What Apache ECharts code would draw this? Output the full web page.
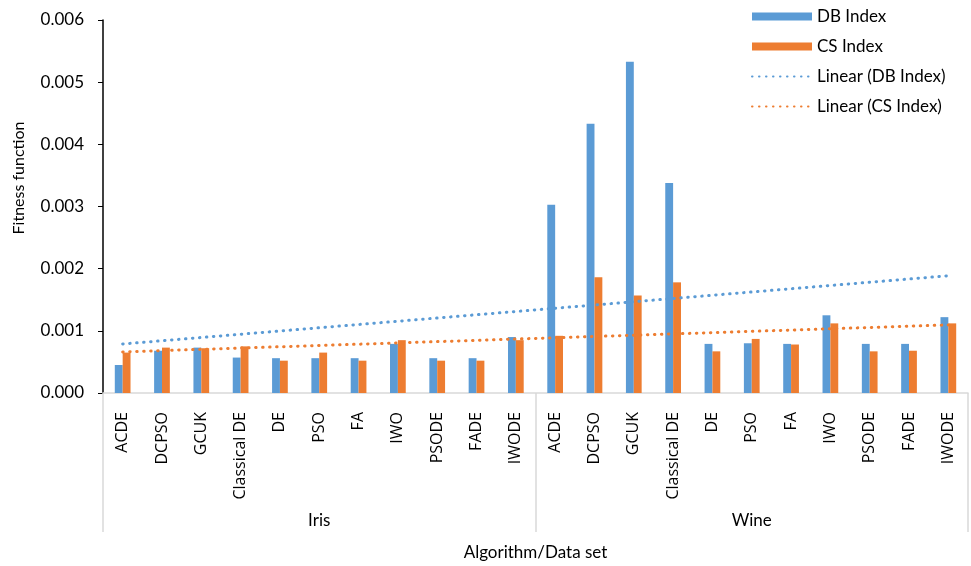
<!DOCTYPE html>
<html>
<head>
<meta charset="utf-8">
<script src="https://cdn.jsdelivr.net/npm/echarts@6/dist/echarts.min.js"></script>
<style>
  html, body { margin: 0; padding: 0; background: #ffffff; }
  #chart { width: 971px; height: 566px; }
</style>
</head>
<body>
<div id="chart"></div>
<script>
// Algorithms evaluated on each data set
const algorithms = ['ACDE', 'DCPSO', 'GCUK', 'Classical DE', 'DE', 'PSO', 'FA', 'IWO', 'PSODE', 'FADE', 'IWODE'];
const dataSets = ['Iris', 'Wine'];

// Fitness values per data set (same algorithm order as above)
const dbIris = [0.00045, 0.00068, 0.00073, 0.00057, 0.00056, 0.00056, 0.00056, 0.00079, 0.00056, 0.00056, 0.00090];
const dbWine = [0.00303, 0.00433, 0.00533, 0.00338, 0.00079, 0.00080, 0.00079, 0.00125, 0.00079, 0.00079, 0.00122];
const csIris = [0.00065, 0.00073, 0.00072, 0.00075, 0.00052, 0.00065, 0.00052, 0.00085, 0.00052, 0.00052, 0.00085];
const csWine = [0.00092, 0.00186, 0.00157, 0.00178, 0.00067, 0.00087, 0.00078, 0.00112, 0.00067, 0.00068, 0.00112];

// Y axis ticks
const yTicks = [0, 0.001, 0.002, 0.003, 0.004, 0.005, 0.006];

const categories = dataSets.flatMap(() => algorithms);
const dbValues = dbIris.concat(dbWine);
const csValues = csIris.concat(csWine);

// Least-squares linear trend over category positions 1..n
function linearTrend(values) {
  const n = values.length;
  let sx = 0, sy = 0, sxx = 0, sxy = 0;
  values.forEach((y, i) => {
    const x = i + 1;
    sx += x; sy += y; sxx += x * x; sxy += x * y;
  });
  const slope = (n * sxy - sx * sy) / (n * sxx - sx * sx);
  const intercept = (sy - slope * sx) / n;
  return values.map((_, i) => intercept + slope * (i + 1));
}

const BLUE = '#5B9BD5';
const ORANGE = '#ED7D31';
const FONT = 'Lato, "Liberation Sans", sans-serif';
const DOTS = { width: 3, type: [0.5, 6.5], cap: 'round' };

const chart = echarts.init(document.getElementById('chart'));

chart.setOption({
  animation: false,
  textStyle: { fontFamily: FONT },
  grid: { left: 103, right: 3, top: 20, bottom: 168, containLabel: false },
  legend: {
    orient: 'vertical',
    left: 751,
    top: 8,
    padding: 0,
    itemWidth: 60,
    itemHeight: 8,
    itemGap: 13,
    textStyle: { fontSize: 17, color: '#000', fontFamily: FONT },
    data: [
      { name: 'DB Index', icon: 'rect' },
      { name: 'CS Index', icon: 'rect' },
      { name: 'Linear (DB Index)', itemStyle: { opacity: 0 } },
      { name: 'Linear (CS Index)', itemStyle: { opacity: 0 } }
    ]
  },
  xAxis: [
    {
      type: 'category',
      data: categories,
      position: 'bottom',
      boundaryGap: true,
      axisLine: { show: true, lineStyle: { color: '#d9d9d9', width: 1.5 } },
      axisTick: { show: false },
      axisLabel: {
        interval: 0,
        rotate: 90,
        margin: 19,
        fontSize: 16,
        color: '#000',
        fontFamily: '"Open Sans", sans-serif'
      }
    },
    {
      type: 'category',
      data: dataSets,
      position: 'bottom',
      boundaryGap: true,
      axisLine: { show: false },
      axisTick: { show: true, length: 139, lineStyle: { color: '#d9d9d9', width: 1.5 } },
      axisLabel: { interval: 0, margin: 119, fontSize: 17, color: '#000', fontFamily: FONT },
      name: 'Algorithm/Data set',
      nameLocation: 'middle',
      nameGap: 151,
      nameTextStyle: { fontSize: 17, color: '#000', fontFamily: FONT }
    }
  ],
  yAxis: {
    type: 'value',
    min: yTicks[0],
    max: yTicks[yTicks.length - 1],
    interval: yTicks[1] - yTicks[0],
    axisLine: { show: true, lineStyle: { color: '#000', width: 1.5 } },
    axisTick: { show: true, length: 5, lineStyle: { color: '#000' } },
    splitLine: { show: false },
    axisLabel: {
      margin: 19,
      fontSize: 17,
      color: '#000',
      formatter: v => v.toFixed(3)
    }
  },
  graphic: [
    {
      type: 'text',
      x: 19,
      y: 178,
      rotation: Math.PI / 2,
      style: {
        text: 'Fitness function',
        fontSize: 16,
        fontFamily: FONT,
        fill: '#000',
        align: 'center',
        verticalAlign: 'middle'
      }
    }
  ],
  series: [
    {
      name: 'DB Index',
      type: 'bar',
      data: dbValues,
      barWidth: '20%',
      barGap: '0%',
      itemStyle: { color: BLUE }
    },
    {
      name: 'CS Index',
      type: 'bar',
      data: csValues,
      barWidth: '20%',
      barGap: '0%',
      itemStyle: { color: ORANGE }
    },
    {
      name: 'Linear (DB Index)',
      type: 'line',
      data: linearTrend(dbValues),
      symbol: 'none',
      z: 5,
      lineStyle: Object.assign({ color: BLUE }, DOTS),
      itemStyle: { color: BLUE }
    },
    {
      name: 'Linear (CS Index)',
      type: 'line',
      data: linearTrend(csValues),
      symbol: 'none',
      z: 5,
      lineStyle: Object.assign({ color: ORANGE }, DOTS),
      itemStyle: { color: ORANGE }
    }
  ]
});
</script>
</body>
</html>
